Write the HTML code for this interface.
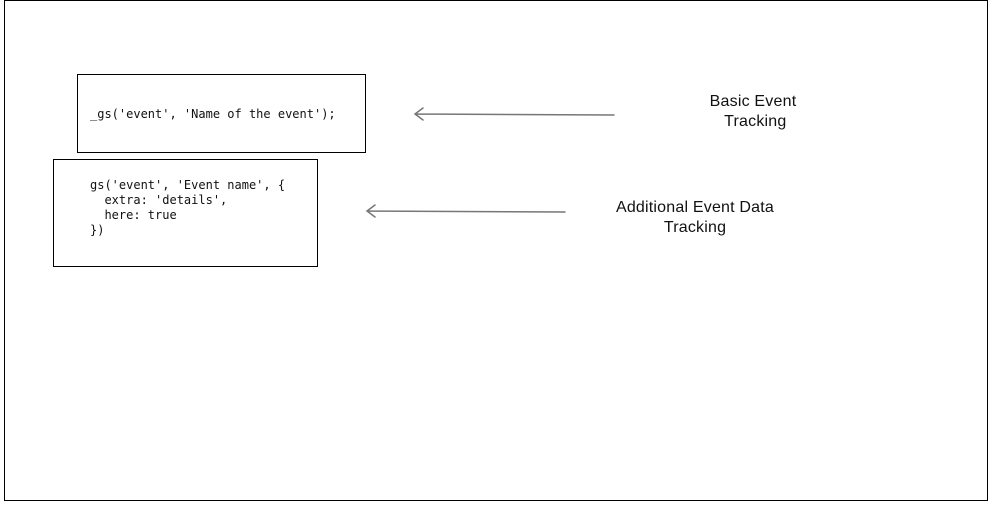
<!DOCTYPE html>
<html><head><style>
body{margin:0;width:992px;height:509px;background:#fff;position:relative;overflow:hidden}
.f{position:absolute;left:4px;top:0;width:982px;height:499px;border:1px solid #000;box-sizing:content-box}
.b{position:absolute;border:1px solid #000;box-sizing:border-box}
pre{position:absolute;margin:0;font-family:"DejaVu Sans Mono","Liberation Mono",monospace;font-size:12px;line-height:15px;color:#111}
.t{position:absolute;font-family:"Liberation Sans",sans-serif;font-size:16px;letter-spacing:0.2px;line-height:20px;color:#111;text-align:center;width:240px}
</style></head><body>
<div class="f"></div>
<div class="b" style="left:77px;top:74px;width:289px;height:79px"></div>
<div class="b" style="left:53px;top:159px;width:265px;height:108px"></div>
<pre style="left:90px;top:107px">_gs('event', 'Name of the event');</pre>
<pre style="left:90px;top:178px">gs('event', 'Event name', {
  extra: 'details',
  here: true
})</pre>
<div class="t" style="left:633px;top:92px">Basic Event<br>&nbsp;Tracking</div>
<div class="t" style="left:575px;top:198px">Additional Event Data<br>Tracking</div>
<svg width="992" height="509" style="position:absolute;left:0;top:0">
<g stroke="#777" stroke-width="1.5" fill="none" stroke-linecap="round">
<path d="M614 115 L415 114 M423 108 L415 114 L423 120"/>
<path d="M565 212 L367 211 M375 205 L367 211 L375 217"/>
</g></svg>
</body></html>
